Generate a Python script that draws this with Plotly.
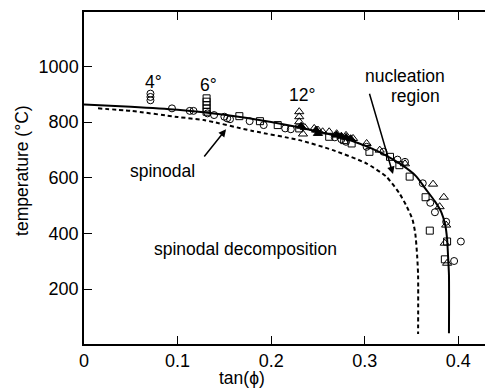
import plotly.graph_objects as go

# Boundary curves (tan(phi), temperature °C)
nucleation_x = [0.0, 0.05, 0.10, 0.15, 0.20, 0.25, 0.28, 0.30, 0.32, 0.34, 0.355, 0.365, 0.375, 0.382, 0.386, 0.388, 0.389, 0.390, 0.390]
nucleation_t = [863, 855, 844, 826, 800, 766, 740, 715, 685, 645, 605, 560, 515, 475, 430, 380, 320, 250, 42]

spinodal_x = [0.015, 0.05, 0.10, 0.128, 0.18, 0.23, 0.266, 0.302, 0.323, 0.337, 0.345, 0.351, 0.354, 0.356, 0.357, 0.357]
spinodal_t = [849, 840, 818, 807, 768, 735, 699, 651, 604, 544, 496, 450, 400, 320, 250, 39]

# Experimental points
circle_x = [0.071, 0.071, 0.071, 0.094, 0.113, 0.117, 0.132, 0.139, 0.150, 0.153, 0.156, 0.177, 0.192, 0.215, 0.221,
            0.268, 0.275, 0.280, 0.302, 0.320, 0.335, 0.343, 0.362, 0.370, 0.375, 0.387, 0.4027, 0.3955]
circle_t = [902, 890, 878, 849, 840, 840, 831, 825, 819, 813, 810, 803, 789, 777, 774,
            745, 738, 729, 711, 693, 665, 657, 580, 510, 476, 442, 371, 301]

square_x = [0.131, 0.131, 0.131, 0.131, 0.131, 0.166, 0.188, 0.207, 0.230, 0.262, 0.278, 0.286, 0.305, 0.327,
            0.337, 0.348, 0.365, 0.3695, 0.388, 0.3856]
square_t = [885, 873, 861, 849, 837, 821, 803, 789, 777, 747, 735, 723, 693, 675,
            645, 604, 530, 410, 371, 307]

triangle_x = [0.230, 0.230, 0.230, 0.234, 0.236, 0.246, 0.250, 0.255, 0.262, 0.270, 0.280, 0.2875, 0.302, 0.316,
              0.343, 0.373, 0.3845, 0.380, 0.387, 0.3855, 0.388]
triangle_t = [837, 819, 801, 757, 780, 777, 771, 765, 765, 758, 752, 741, 723, 699,
              650, 577, 530, 496, 430, 365, 293]

filled_x = [0.232, 0.248, 0.250, 0.270, 0.275, 0.280, 0.285]
filled_t = [785, 771, 759, 753, 749, 745, 740]

x_ticks = [0, 0.1, 0.2, 0.3, 0.4]
x_tick_labels = ["0", "0.1", "0.2", "0.3", "0.4"]
y_ticks = [200, 400, 600, 800, 1000]
y_tick_labels = ["200", "400", "600", "800", "1000"]

FONT = "Liberation Sans, Arial, Helvetica, sans-serif"
FS = 18
AFS = 17.5

fig = go.Figure()
fig.add_trace(go.Scatter(x=spinodal_x, y=spinodal_t, mode="lines", line=dict(color="black", width=2, dash="4px,3px", shape="spline", smoothing=0.6), showlegend=False))
fig.add_trace(go.Scatter(x=nucleation_x, y=nucleation_t, mode="lines", line=dict(color="black", width=2, shape="spline", smoothing=0.6), showlegend=False))
mk = dict(color="black", width=1)
fig.add_trace(go.Scatter(x=circle_x, y=circle_t, mode="markers", marker=dict(symbol="circle-open", size=7, color="black", line=mk), showlegend=False))
fig.add_trace(go.Scatter(x=square_x, y=square_t, mode="markers", marker=dict(symbol="square-open", size=7, color="black", line=mk), showlegend=False))
fig.add_trace(go.Scatter(x=triangle_x, y=triangle_t, mode="markers", marker=dict(symbol="triangle-up-open", size=8, color="black", line=mk), showlegend=False))
fig.add_trace(go.Scatter(x=filled_x, y=filled_t, mode="markers", marker=dict(symbol="triangle-up", size=8, color="black", line=mk), showlegend=False))

txt = dict(family=FONT, size=FS, color="black")
atxt = dict(family=FONT, size=AFS, color="black")
def label(x, y, s):
    fig.add_annotation(x=x, y=y, text=s, showarrow=False, font=atxt, xanchor="center", yanchor="middle")

label(0.0741, 945, "4°")
label(0.1328, 933, "6°")
label(0.2326, 897, "12°")
label(0.343, 966, "nucleation")
label(0.3537, 894, "region")
label(0.0844, 624, "spinodal")
label(0.1731, 344, "spinodal decomposition")

fig.add_annotation(x=0.3302, y=613, ax=0.3046, ay=907, axref="x", ayref="y", xref="x", yref="y",
                   text="", showarrow=True, arrowhead=2, arrowsize=1, arrowwidth=1.5, arrowcolor="black")
fig.add_annotation(x=0.1518, y=774, ax=0.1272, ay=671, axref="x", ayref="y", xref="x", yref="y",
                   text="", showarrow=True, arrowhead=2, arrowsize=1, arrowwidth=1.5, arrowcolor="black")

fig.add_annotation(x=-0.155, y=0.524, xref="paper", yref="paper", text="temperature (°C)", textangle=-90,
                   showarrow=False, font=atxt, xanchor="center", yanchor="middle")
fig.add_annotation(x=0.394, y=-0.102, xref="paper", yref="paper", text="tan(ϕ)",
                   showarrow=False, font=atxt, xanchor="center", yanchor="middle")

fig.update_xaxes(range=[0, 0.4285], tickvals=x_ticks, ticktext=x_tick_labels, ticks="inside", ticklen=8,
                 tickcolor="black", showline=True, linecolor="black", linewidth=1.5, mirror="ticks",
                 showgrid=False, zeroline=False, tickfont=txt)
fig.update_yaxes(range=[3, 1195], tickvals=y_ticks, ticktext=y_tick_labels, ticks="inside", ticklen=8,
                 tickcolor="black", showline=True, linecolor="black", linewidth=1.5,
                 showgrid=False, zeroline=False, tickfont=txt)
fig.update_layout(width=485, height=388, margin=dict(l=84, r=0, t=12, b=44),
                  plot_bgcolor="white", paper_bgcolor="white", font=txt)
fig.write_html("out.html", config={"displayModeBar": False},
               post_script="document.body.style.margin='0px';document.body.style.overflow='hidden';")
